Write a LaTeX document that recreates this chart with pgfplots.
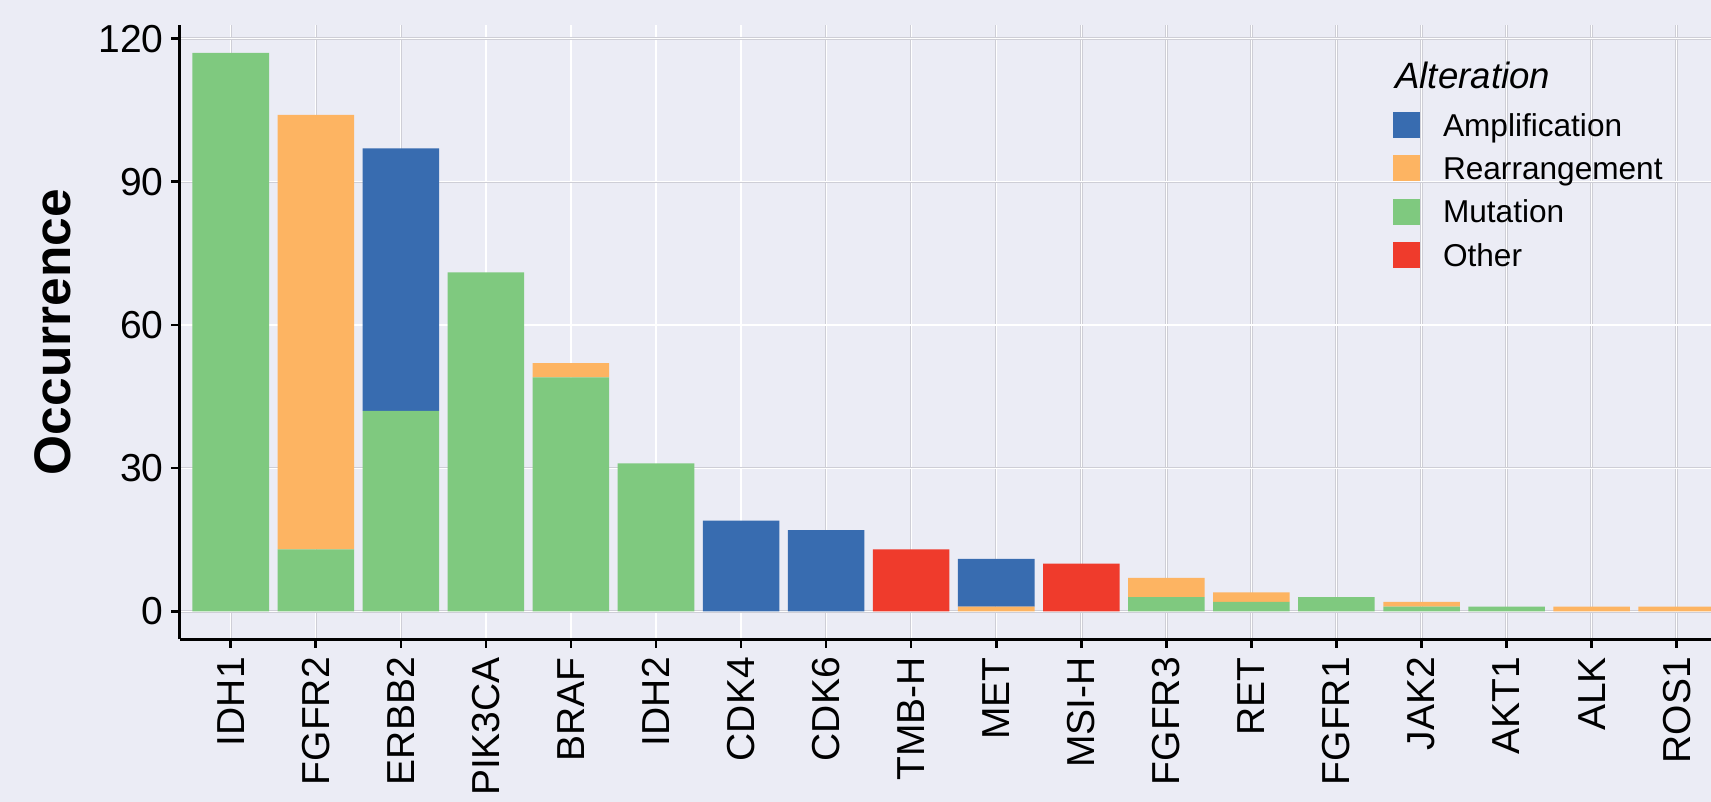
\documentclass[border=0pt]{standalone}
\usepackage{pgfplots}
\pgfplotsset{compat=1.18}
\usepackage{pgfplotstable}
\usepackage{fontspec}
\setmainfont{Liberation Sans}
\definecolor{bg}{RGB}{235,236,245}
\definecolor{amp}{RGB}{56,108,176}
\definecolor{rea}{RGB}{253,180,98}
\definecolor{mut}{RGB}{127,201,127}
\definecolor{oth}{RGB}{239,59,44}
\definecolor{gridc}{RGB}{206,206,214}

\pgfplotstableread{
x name amp rea mut oth
1 IDH1 0 0 117 0
2 FGFR2 0 91 13 0
3 ERBB2 55 0 42 0
4 PIK3CA 0 0 71 0
5 BRAF 0 3 49 0
6 IDH2 0 0 31 0
7 CDK4 19 0 0 0
8 CDK6 17 0 0 0
9 TMB-H 0 0 0 13
10 MET 10 1 0 0
11 MSI-H 0 0 0 10
12 FGFR3 0 4 3 0
13 RET 0 2 2 0
14 FGFR1 0 0 3 0
15 JAK2 0 1 1 0
16 AKT1 0 0 1 0
17 ALK 0 1 0 0
18 ROS1 0 1 0 0
}\data

\begin{document}
\begin{tikzpicture}
\useasboundingbox (0,0) rectangle (855.5pt,401pt);
\fill[bg] (0,0) rectangle (855.5pt,401pt);
\clip (0,0) rectangle (855.5pt,401pt);
\begin{axis}[
  at={(89.85pt,81.35pt)}, anchor=south west,
  scale only axis, width=774pt, height=307.15pt,
  xmin=0.4, xmax=18.6, ymin=-5.85, ymax=122.85,
  axis background/.style={fill=bg},
  axis lines=left, axis line style={-, black, line width=1.3pt},
  tick align=outside, major tick length=4.25pt,
  tick style={black, line width=1.3pt},
  xtick={1,...,18},
  xticklabels={IDH1,FGFR2,ERBB2,PIK3CA,BRAF,IDH2,CDK4,CDK6,TMB-H,MET,MSI-H,FGFR3,RET,FGFR1,JAK2,AKT1,ALK,ROS1},
  ytick={0,30,60,90,120},
  grid=major,
  major grid style={draw=gridc, line width=0.3pt, double=white, double distance=0.6pt},
  ybar stacked, bar width=0.9,
  tick label style={font=\fontsize{19.5}{22}\selectfont},
  /pgf/number format/assume math mode=true,
  xticklabel style={yshift=-4.5pt, rotate=90, anchor=east, inner sep=0pt},
  yticklabel style={inner sep=0pt, xshift=-3.6pt},
  ylabel={Occurrence},
  every axis y label/.style={at={(axis description cs:-0.0818,0.5)}, rotate=90, anchor=center, font=\bfseries\fontsize{25.7}{30}\selectfont},
  reverse legend,
  legend cell align=left,
  legend style={at={(axis description cs:0.7838,0.8589)}, anchor=north west, draw=none, fill=none,
    font=\fontsize{15.8}{19}\selectfont, inner sep=0pt, row sep=6.06pt, column sep=11.3pt,
    nodes={inner sep=0pt, text height=11pt, text depth=3.5pt}},
]
\addplot[fill=oth, draw=none, legend image code/.code={\fill[oth] (0pt,-4.64pt) rectangle (13.5pt,8.36pt);}] table[x=x, y=oth]{\data};
\addlegendentry{Other}
\addplot[fill=mut, draw=none, legend image code/.code={\fill[mut] (0pt,-4.64pt) rectangle (13.5pt,8.36pt);}] table[x=x, y=mut]{\data};
\addlegendentry{Mutation}
\addplot[fill=rea, draw=none, legend image code/.code={\fill[rea] (0pt,-4.64pt) rectangle (13.5pt,8.36pt);}] table[x=x, y=rea]{\data};
\addlegendentry{Rearrangement}
\addplot[fill=amp, draw=none, legend image code/.code={\fill[amp] (0pt,-4.64pt) rectangle (13.5pt,8.36pt);}] table[x=x, y=amp]{\data};
\addlegendentry{Amplification}
\node[anchor=base west, inner sep=0pt, font=\itshape\fontsize{18.3}{22}\selectfont] at (axis description cs:0.7851,0.897) {Alteration};
\end{axis}
\end{tikzpicture}
\end{document}
